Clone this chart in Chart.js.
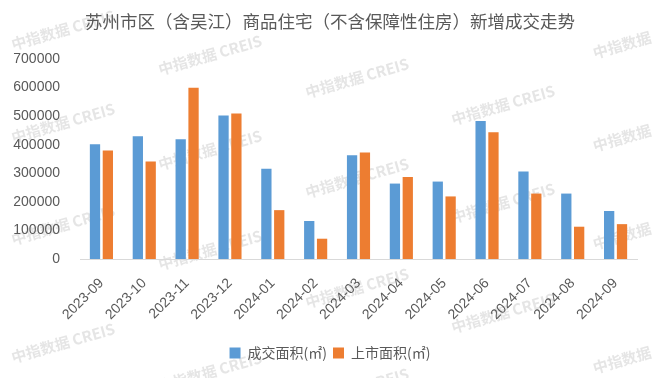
<!DOCTYPE html>
<html>
<head>
<meta charset="utf-8">
<script src="https://cdn.jsdelivr.net/npm/chart.js@4.4.1/dist/chart.umd.min.js"></script>
<style>
  html, body { margin: 0; padding: 0; background: #fff; }
  #wrap { width: 660px; height: 378px; position: relative; }
</style>
</head>
<body>
<div id="wrap"><canvas id="chart0"></canvas></div>
<script>
// 数据
const months = ['2023-09', '2023-10', '2023-11', '2023-12', '2024-01', '2024-02', '2024-03',
                '2024-04', '2024-05', '2024-06', '2024-07', '2024-08', '2024-09'];
const dealArea = [402000, 430000, 419000, 502000, 316000, 133000, 363000,
                  264000, 271000, 483000, 306000, 229000, 168000];
const listedArea = [380000, 341000, 599000, 509000, 171000, 71000, 373000,
                    287000, 219000, 444000, 229000, 113000, 122000];
const yTicks = [0, 100000, 200000, 300000, 400000, 500000, 600000, 700000];

const grey = '#595959';

// 水印 (背景)
const watermarkSpots = [
    [63, 30, '中指数据 CREIS'], [210, 55, '中指数据 CREIS'], [357, 78, '中指数据 CREIS'],
    [622, 45, '中指数据'], [63, 123, '中指数据 CREIS'], [210, 150, '中指数据 CREIS'],
    [503, 105, '中指数据 CREIS'], [357, 178, '中指数据 CREIS'], [622, 138, '中指数据'],
    [63, 225, '中指数据 CREIS'], [210, 250, '中指数据 CREIS'], [503, 203, '中指数据 CREIS'],
    [622, 236, '中指数据'], [357, 288, '中指数据 CREIS'], [503, 313, '中指数据 CREIS'],
    [63, 343, '中指数据 CREIS'], [210, 372, '中指数据 CREIS'], [622, 360, '中指数据'],
    [357, 388, '中指数据 CREIS']
];
const watermark = {
    id: 'watermark',
    beforeDraw(chart) {
        const c = chart.ctx;
        c.save();
        c.fillStyle = '#fff';
        c.fillRect(0, 0, chart.width, chart.height);
        c.fillStyle = 'rgba(190,190,190,0.4)';
        c.font = 'bold 15px "Noto Sans CJK SC", sans-serif';
        c.textAlign = 'center';
        c.textBaseline = 'middle';
        watermarkSpots.forEach(([x, y, t]) => {
            c.save();
            c.translate(x, y);
            c.rotate(-16 * Math.PI / 180);
            c.fillText(t, 0, 0);
            c.restore();
        });
        c.restore();
    }
};

new Chart(document.getElementById('chart0').getContext('2d'), {
    type: 'bar',
    data: {
        labels: months,
        datasets: [{
            label: '成交面积(㎡)',
            data: dealArea,
            backgroundColor: '#5B9BD5',
            categoryPercentage: 0.6,
            barPercentage: 0.8
        }, {
            label: '上市面积(㎡)',
            data: listedArea,
            backgroundColor: '#ED7D31',
            categoryPercentage: 0.6,
            barPercentage: 0.8
        }]
    },
    options: {
        responsive: true,
        maintainAspectRatio: false,
        animation: false,
        layout: { padding: { left: 0, right: 0, top: 0, bottom: 8 } },
        plugins: {
            title: {
                display: true,
                text: '苏州市区（含吴江）商品住宅（不含保障性住房）新增成交走势',
                color: grey,
                font: { family: '"Noto Sans CJK SC", sans-serif', size: 17.5, weight: 'normal' },
                padding: { top: 11, bottom: 27 }
            },
            legend: {
                position: 'bottom',
                labels: {
                    color: grey,
                    boxWidth: 11,
                    boxHeight: 11,
                    padding: 6,
                    font: { family: '"Noto Sans CJK SC", sans-serif', size: 14 }
                }
            },
            tooltip: { enabled: false }
        },
        scales: {
            x: {
                grid: { display: true, drawOnChartArea: false, drawTicks: false },
                border: { display: true, color: '#D9D9D9', width: 1 },
                afterFit: scale => { scale.height = 81; },
                ticks: {
                    color: grey,
                    maxRotation: 45,
                    minRotation: 45,
                    padding: 16,
                    font: { family: '"Liberation Sans", sans-serif', size: 14 }
                }
            },
            y: {
                min: 0,
                max: 700000,
                afterBuildTicks: scale => { scale.ticks = yTicks.map(v => ({ value: v })); },
                afterFit: scale => { scale.width = 80; },
                grid: { display: false },
                border: { display: false },
                ticks: {
                    color: grey,
                    padding: 12,
                    callback: v => String(v),
                    font: { family: '"Liberation Sans", sans-serif', size: 14 }
                }
            },
            // 右侧留白
            yRight: {
                position: 'right',
                afterFit: scale => { scale.width = 23; },
                grid: { display: false },
                border: { display: false },
                ticks: { display: false }
            }
        }
    },
    plugins: [watermark]
});
</script>
</body>
</html>
